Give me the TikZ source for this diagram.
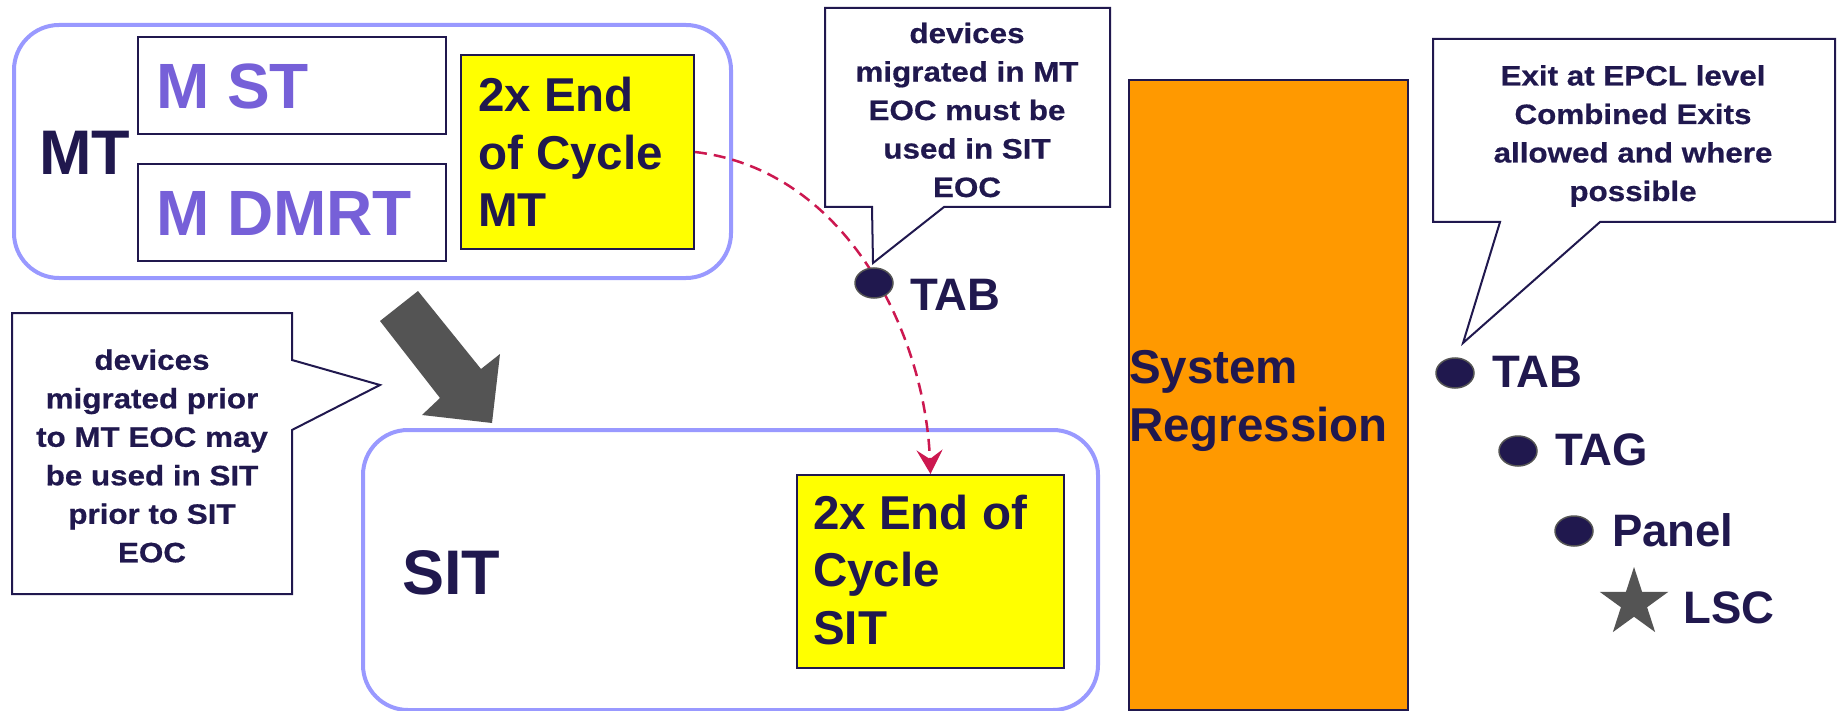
\documentclass[tikz,border=0pt]{standalone}
\usepackage{fontspec}
\setmainfont{Liberation Sans}
\newfontfamily\callfont{Liberation Sans}[FakeStretch=1.12,FakeBold=0.6]
\usetikzlibrary{arrows.meta,shapes.geometric}
\definecolor{navy}{RGB}{32,24,78}
\definecolor{lilac}{RGB}{153,153,255}
\definecolor{purp}{RGB}{118,96,216}
\definecolor{yel}{RGB}{255,255,0}
\definecolor{orng}{RGB}{255,153,0}
\definecolor{greyd}{RGB}{84,84,84}
\definecolor{crim}{RGB}{204,24,80}
\newcommand\myfs[2]{\fontsize{#1}{#2}\selectfont}
\begin{document}
\begin{tikzpicture}[x=1pt,y=-1pt,
  phase/.style={draw=lilac, line width=4pt, rounded corners=45pt, fill=white, anchor=north west, inner sep=0pt},
  subbox/.style={draw=navy, line width=2pt, fill=white, anchor=north west, inner sep=0pt},
  eocbox/.style={draw=navy, line width=2pt, fill=yel, anchor=north west, inner sep=0pt},
  regbox/.style={draw=navy, line width=2pt, fill=orng, anchor=north west, inner sep=0pt},
  huge/.style={inner sep=0pt, anchor=base west, text=navy, font=\myfs{63}{70}\bfseries},
  sub/.style={inner sep=0pt, anchor=base west, text=purp, font=\myfs{64}{70}\bfseries},
  eoctext/.style={inner sep=0pt, anchor=west, align=left, text=navy, font=\myfs{47.5}{57.5}\bfseries},
  lbl/.style={inner sep=0pt, anchor=base west, text=navy, font=\myfs{45.5}{50}\bfseries},
  dot/.style={ellipse, minimum width=38pt, minimum height=30pt, inner sep=0pt, fill=navy, draw=greyd, line width=1.5pt},
  callshape/.style={draw=navy, line width=2pt, fill=white, line join=miter},
  calltext/.style={inner sep=0pt, align=center, text=navy, font=\callfont\myfs{28}{38.5}\bfseries},
  flow/.style={draw=crim, line width=2.5pt, dash pattern=on 12pt off 7pt, -{Stealth[length=24pt,width=26pt,inset=9pt]}}
]
\useasboundingbox[fill=white] (0,0) rectangle (1843,711);

% MT phase
\node[phase, minimum width=717pt, minimum height=253pt] (mt) at (12,23) {};
\node[huge] (mtlabel) at (39,175) {MT};
\node[subbox, minimum width=308pt, minimum height=97pt] (mst) at (137,36) {};
\node[sub] (msttext) at (156,109) {M ST};
\node[subbox, minimum width=308pt, minimum height=97pt] (mdmrt) at (137,163) {};
\node[sub] (mdmrttext) at (156,236) {M DMRT};
\node[eocbox, minimum width=233pt, minimum height=194pt] (eocmt) at (460,54) {};
\node[eoctext] (eocmttext) at (478,152) {2x End\\of Cycle\\MT};

% SIT phase
\node[phase, minimum width=735pt, minimum height=280pt] (sit) at (361,428) {};
\node[huge] (sitlabel) at (402,594) {SIT};
\node[eocbox, minimum width=267pt, minimum height=193pt] (eocsit) at (796,474) {};
\node[eoctext] (eocsittext) at (813,570) {2x End of\\Cycle\\SIT};

% big grey arrow MT -> SIT
\fill[greyd] (418,291) -- (380,321) -- (440,398) -- (422,415) -- (492,423) -- (500,354) -- (481,369) -- cycle;

% System regression
\node[regbox, minimum width=279pt, minimum height=630pt] (sysreg) at (1128,79) {};
\node[eoctext] (sysregtext) at (1129,401) {System\\Regression};

% callout 1 (middle top)
\draw[callshape] (825,8) -- (1110,8) -- (1110,207) -- (944,207) -- (873,263) -- (872,207) -- (825,207) -- cycle;
\node[calltext] (c1) at (967,110) {devices\\migrated in MT\\EOC must be\\used in SIT\\EOC};

% callout 2 (right top)
\draw[callshape] (1433,39) -- (1835,39) -- (1835,222) -- (1600,222) -- (1463,343) -- (1500,222) -- (1433,222) -- cycle;
\node[calltext] (c2) at (1633,136) {Exit at EPCL level\\Combined Exits\\allowed and where\\possible};

% callout 3 (left)
\draw[callshape] (12,313) -- (292,313) -- (292,360) -- (380,385) -- (292,430) -- (292,594) -- (12,594) -- cycle;
\node[calltext] (c3) at (152,456) {devices\\migrated prior\\to MT EOC may\\be used in SIT\\prior to SIT\\EOC};

% dashed migration arrow
\draw[flow] (eocmt.east) .. controls (847,170) and (925,334) .. (eocsit.north);

% middle TAB
\node[dot] (tabmid) at (874,283) {};
\node[lbl] (tabmidtext) at (910,310) {TAB};

% right list
\node[dot] (tab) at (1455,373) {};
\node[lbl] (tabtext) at (1492,387) {TAB};
\node[dot] (tag) at (1518,451) {};
\node[lbl] (tagtext) at (1555,465) {TAG};
\node[dot] (panel) at (1574,531) {};
\node[lbl] (paneltext) at (1612,546) {Panel};
\node[star, star points=5, star point ratio=2.618, fill=greyd, minimum size=72pt, inner sep=0pt] (lscstar) at (1634,603) {};
\node[lbl] (lsctext) at (1683,623) {LSC};
\end{tikzpicture}
\end{document}
